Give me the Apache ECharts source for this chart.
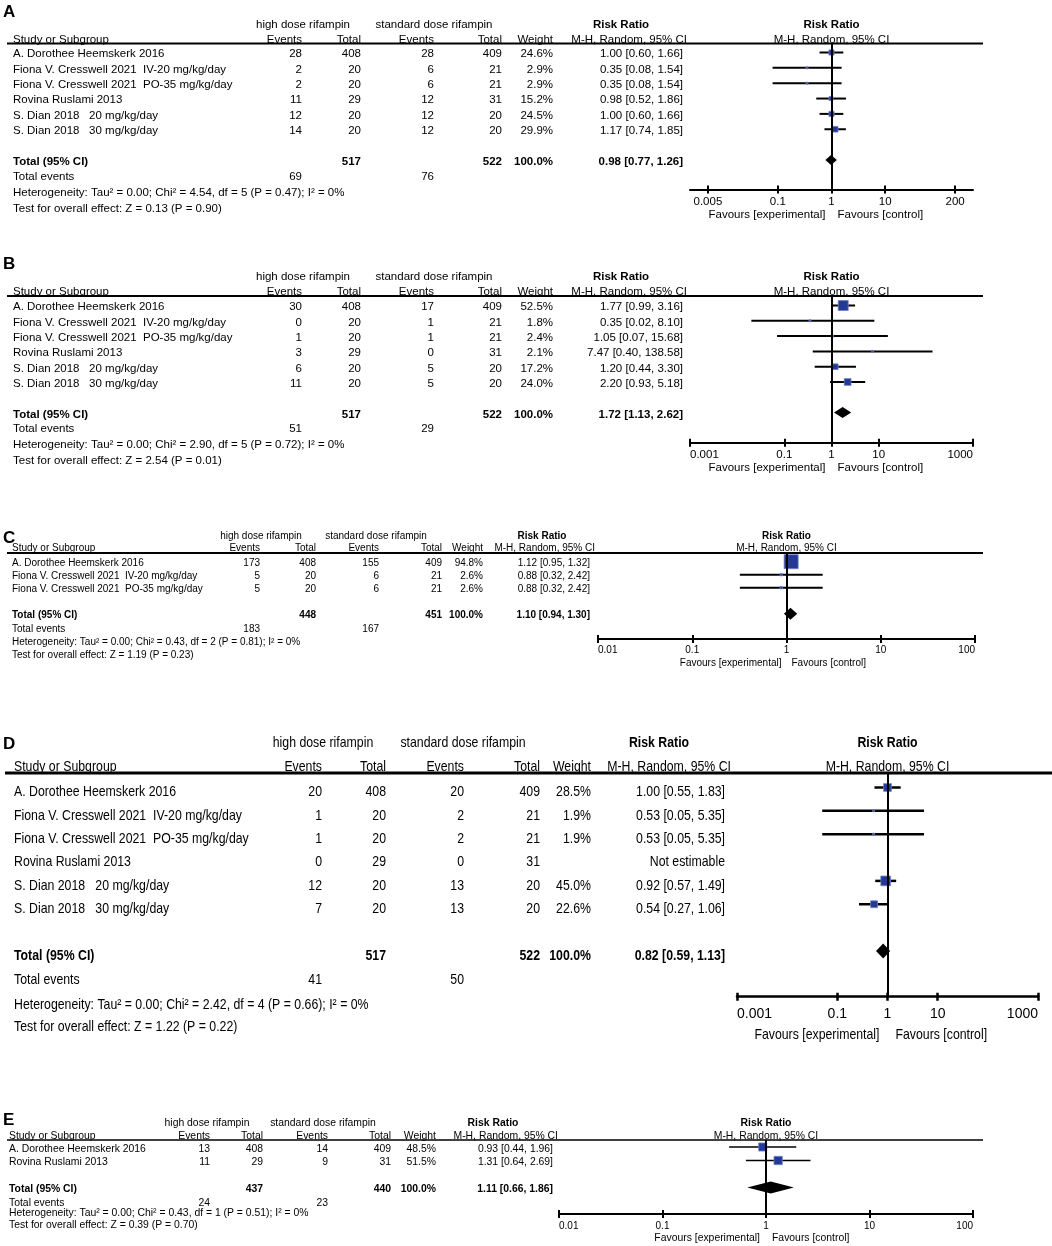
<!DOCTYPE html>
<html>
<head>
<meta charset="utf-8">
<script src="https://cdn.jsdelivr.net/npm/echarts@6/dist/echarts.min.js"></script>
<style>
html,body{margin:0;padding:0;background:#fff;}
#c{width:1052px;height:1246px;}
</style>
</head>
<body>
<div id="c"></div>
<script>
// ---------------- DATA ----------------
const groupHeaders = ['high dose rifampin', 'standard dose rifampin'];
const colHeaders = ['Events', 'Total', 'Events', 'Total', 'Weight'];
const effectHeaders = ['Risk Ratio', 'M-H, Random, 95% CI'];
const favoursLabels = ['Favours [experimental]', 'Favours [control]'];
const studyHeader = 'Study or Subgroup';

// Panel A
const studiesA = ['A. Dorothee Heemskerk 2016', 'Fiona V. Cresswell 2021  IV-20 mg/kg/day', 'Fiona V. Cresswell 2021  PO-35 mg/kg/day', 'Rovina Ruslami 2013', 'S. Dian 2018   20 mg/kg/day', 'S. Dian 2018   30 mg/kg/day'];
const expEventsA = [28, 2, 2, 11, 12, 14];
const expTotalA = [408, 20, 20, 29, 20, 20];
const ctrlEventsA = [28, 6, 6, 12, 12, 12];
const ctrlTotalA = [409, 21, 21, 31, 20, 20];
const weightA = [24.6, 2.9, 2.9, 15.2, 24.5, 29.9];
const rrA = [1.00, 0.35, 0.35, 0.98, 1.00, 1.17];
const lowA = [0.60, 0.08, 0.08, 0.52, 0.60, 0.74];
const highA = [1.66, 1.54, 1.54, 1.86, 1.66, 1.85];
const totalsA = [517, 522];
const pooledA = [0.98, 0.77, 1.26];
const totalEventsA = [69, 76];
const hetA = 'Heterogeneity: Tau² = 0.00; Chi² = 4.54, df = 5 (P = 0.47); I² = 0%';
const testA = 'Test for overall effect: Z = 0.13 (P = 0.90)';
const ticksA = [0.005, 0.1, 1, 10, 200];

// Panel B
const studiesB = ['A. Dorothee Heemskerk 2016', 'Fiona V. Cresswell 2021  IV-20 mg/kg/day', 'Fiona V. Cresswell 2021  PO-35 mg/kg/day', 'Rovina Ruslami 2013', 'S. Dian 2018   20 mg/kg/day', 'S. Dian 2018   30 mg/kg/day'];
const expEventsB = [30, 0, 1, 3, 6, 11];
const expTotalB = [408, 20, 20, 29, 20, 20];
const ctrlEventsB = [17, 1, 1, 0, 5, 5];
const ctrlTotalB = [409, 21, 21, 31, 20, 20];
const weightB = [52.5, 1.8, 2.4, 2.1, 17.2, 24.0];
const rrB = [1.77, 0.35, 1.05, 7.47, 1.20, 2.20];
const lowB = [0.99, 0.02, 0.07, 0.40, 0.44, 0.93];
const highB = [3.16, 8.10, 15.68, 138.58, 3.30, 5.18];
const totalsB = [517, 522];
const pooledB = [1.72, 1.13, 2.62];
const totalEventsB = [51, 29];
const hetB = 'Heterogeneity: Tau² = 0.00; Chi² = 2.90, df = 5 (P = 0.72); I² = 0%';
const testB = 'Test for overall effect: Z = 2.54 (P = 0.01)';
const ticksB = [0.001, 0.1, 1, 10, 1000];

// Panel C
const studiesC = ['A. Dorothee Heemskerk 2016', 'Fiona V. Cresswell 2021  IV-20 mg/kg/day', 'Fiona V. Cresswell 2021  PO-35 mg/kg/day'];
const expEventsC = [173, 5, 5];
const expTotalC = [408, 20, 20];
const ctrlEventsC = [155, 6, 6];
const ctrlTotalC = [409, 21, 21];
const weightC = [94.8, 2.6, 2.6];
const rrC = [1.12, 0.88, 0.88];
const lowC = [0.95, 0.32, 0.32];
const highC = [1.32, 2.42, 2.42];
const totalsC = [448, 451];
const pooledC = [1.10, 0.94, 1.30];
const totalEventsC = [183, 167];
const hetC = 'Heterogeneity: Tau² = 0.00; Chi² = 0.43, df = 2 (P = 0.81); I² = 0%';
const testC = 'Test for overall effect: Z = 1.19 (P = 0.23)';
const ticksC = [0.01, 0.1, 1, 10, 100];

// Panel D
const studiesD = ['A. Dorothee Heemskerk 2016', 'Fiona V. Cresswell 2021  IV-20 mg/kg/day', 'Fiona V. Cresswell 2021  PO-35 mg/kg/day', 'Rovina Ruslami 2013', 'S. Dian 2018   20 mg/kg/day', 'S. Dian 2018   30 mg/kg/day'];
const expEventsD = [20, 1, 1, 0, 12, 7];
const expTotalD = [408, 20, 20, 29, 20, 20];
const ctrlEventsD = [20, 2, 2, 0, 13, 13];
const ctrlTotalD = [409, 21, 21, 31, 20, 20];
const weightD = [28.5, 1.9, 1.9, null, 45.0, 22.6];
const rrD = [1.00, 0.53, 0.53, null, 0.92, 0.54];
const lowD = [0.55, 0.05, 0.05, null, 0.57, 0.27];
const highD = [1.83, 5.35, 5.35, null, 1.49, 1.06];
const totalsD = [517, 522];
const pooledD = [0.82, 0.59, 1.13];
const totalEventsD = [41, 50];
const hetD = 'Heterogeneity: Tau² = 0.00; Chi² = 2.42, df = 4 (P = 0.66); I² = 0%';
const testD = 'Test for overall effect: Z = 1.22 (P = 0.22)';
const ticksD = [0.001, 0.1, 1, 10, 1000];

// Panel E
const studiesE = ['A. Dorothee Heemskerk 2016', 'Rovina Ruslami 2013'];
const expEventsE = [13, 11];
const expTotalE = [408, 29];
const ctrlEventsE = [14, 9];
const ctrlTotalE = [409, 31];
const weightE = [48.5, 51.5];
const rrE = [0.93, 1.31];
const lowE = [0.44, 0.64];
const highE = [1.96, 2.69];
const totalsE = [437, 440];
const pooledE = [1.11, 0.66, 1.86];
const totalEventsE = [24, 23];
const hetE = 'Heterogeneity: Tau² = 0.00; Chi² = 0.43, df = 1 (P = 0.51); I² = 0%';
const testE = 'Test for overall effect: Z = 0.39 (P = 0.70)';
const ticksE = [0.01, 0.1, 1, 10, 100];

const totalWeightText = '100.0%';

const panelData = [
  {studies: studiesA, expE: expEventsA, expN: expTotalA, ctlE: ctrlEventsA, ctlN: ctrlTotalA, weight: weightA, rr: rrA, low: lowA, high: highA, totN: totalsA, pooled: pooledA, totE: totalEventsA, het: hetA, test: testA, ticks: ticksA},
  {studies: studiesB, expE: expEventsB, expN: expTotalB, ctlE: ctrlEventsB, ctlN: ctrlTotalB, weight: weightB, rr: rrB, low: lowB, high: highB, totN: totalsB, pooled: pooledB, totE: totalEventsB, het: hetB, test: testB, ticks: ticksB},
  {studies: studiesC, expE: expEventsC, expN: expTotalC, ctlE: ctrlEventsC, ctlN: ctrlTotalC, weight: weightC, rr: rrC, low: lowC, high: highC, totN: totalsC, pooled: pooledC, totE: totalEventsC, het: hetC, test: testC, ticks: ticksC},
  {studies: studiesD, expE: expEventsD, expN: expTotalD, ctlE: ctrlEventsD, ctlN: ctrlTotalD, weight: weightD, rr: rrD, low: lowD, high: highD, totN: totalsD, pooled: pooledD, totE: totalEventsD, het: hetD, test: testD, ticks: ticksD},
  {studies: studiesE, expE: expEventsE, expN: expTotalE, ctlE: ctrlEventsE, ctlN: ctrlTotalE, weight: weightE, rr: rrE, low: lowE, high: highE, totN: totalsE, pooled: pooledE, totE: totalEventsE, het: hetE, test: testE, ticks: ticksE}
];

// ---------------- LAYOUT ----------------
const layouts = [
  {label:'A', labelY:12, fs:11.5, sx:1, h1Y:24.5, h2Y:39.5, lineY:43.5, lineX0:7, lineX1:983, lineW:2,
   row0:52.5, pitch:15.35, textDy:1.5, totalRow:7, footY:[177,193,208.5], nameX:13,
   cols:[302,361,434,502,553,683], mhRight:687, grpX:[303,434], rrX:621,
   x0:690, x1:973, lo:0.00232, hi:431, alignEnds:false, axisY:189.5, axisW:2, tickFs:11.5, labelMargin:6, favY:215, favGap:6,
   sqK:1.04, diaH:5, ciW:2},
  {label:'B', labelY:264, fs:11.5, sx:1, h1Y:277, h2Y:291.5, lineY:296, lineX0:7, lineX1:983, lineW:2,
   row0:305.5, pitch:15.3, textDy:1.8, totalRow:7, footY:[429,445,461], nameX:13,
   cols:[302,361,434,502,553,683], mhRight:687, grpX:[303,434], rrX:621,
   x0:690, x1:973, lo:0.001, hi:1000, alignEnds:true, axisY:442.7, axisW:2, tickFs:11.5, labelMargin:6, favY:468, favGap:6,
   sqK:1.38, diaH:5.5, ciW:2},
  {label:'C', labelY:538, fs:10, sx:1, h1Y:536.5, h2Y:548.5, lineY:553, lineX0:7, lineX1:983, lineW:2,
   row0:561.7, pitch:13, textDy:1.5, totalRow:4, footY:[629.5,642,655.5], nameX:12,
   cols:[260,316,379,442,483,590], mhRight:595, grpX:[261,376], rrX:542,
   x0:598, x1:975, lo:0.01, hi:100, alignEnds:true, axisY:639, axisW:2, tickFs:10, labelMargin:6, favY:663, favGap:5,
   sqK:1.44, diaH:6, ciW:2},
  {label:'D', labelY:744, fs:15, sx:0.82, h1Y:743.3, h2Y:766.5, lineY:773, lineX0:5, lineX1:1052, lineW:3,
   row0:787.5, pitch:23.35, textDy:4.8, totalRow:7, footY:[980,1005,1026.5], nameX:14,
   cols:[322,386,464,540,591,725], mhRight:731, grpX:[323,463], rrX:659,
   x0:737, x1:1038, lo:0.001, hi:1000, alignEnds:true, axisY:996.7, axisW:2.5, tickFs:14, labelMargin:10, favY:1035, favGap:8,
   sqK:1.45, diaH:7.5, ciW:2.5},
  {label:'E', labelY:1120, fs:10.4, sx:1, h1Y:1122.7, h2Y:1136, lineY:1140, lineX0:7, lineX1:983, lineW:1.5,
   row0:1147, pitch:13.5, textDy:2, totalRow:3, footY:[1203,1213.5,1225], nameX:9,
   cols:[210,263,328,391,436,553], mhRight:558, grpX:[207,323], rrX:493,
   x0:559, x1:973, lo:0.01, hi:100, alignEnds:true, axisY:1214, axisW:2, tickFs:10, labelMargin:7.5, favY:1238, favGap:6,
   sqK:1.16, diaH:6, ciW:1.5}
];

const FONT = '"Liberation Sans", Arial, Helvetica, sans-serif';
const SQ_COLOR = '#233a94';
const SQ_BORDER = '#6f80c6';

const chart = echarts.init(document.getElementById('c'), null, {renderer: 'canvas'});
const grids = [], xAxes = [], yAxes = [], series = [];
const fmtTick = v => String(+(+v).toPrecision(4));

layouts.forEach((L, k) => {
  const D = panelData[k];
  const yMin = (L.lineY - L.row0) / L.pitch;
  const yMax = (L.axisY - L.row0) / L.pitch;
  grids.push({left: L.x0, width: L.x1 - L.x0, top: L.lineY, height: L.axisY - L.lineY, containLabel: false, outerBoundsMode: 'none'});
  const base = {type: 'log', logBase: 10, gridIndex: k, position: 'bottom', min: L.lo, max: L.hi, splitLine: {show: false}, minorTick: {show: false}, minorSplitLine: {show: false}};
  const label = {show: true, customValues: D.ticks, formatter: fmtTick, margin: L.labelMargin, color: '#000', fontSize: L.tickFs, fontFamily: FONT, showMinLabel: true, showMaxLabel: true};
  if (L.alignEnds) { label.alignMinLabel = 'left'; label.alignMaxLabel = 'right'; }
  xAxes.push(Object.assign({}, base, {
    axisLine: {show: true, onZero: false, lineStyle: {color: '#000', width: L.axisW}},
    axisTick: {show: true, inside: false, length: 4, customValues: D.ticks, lineStyle: {color: '#000', width: L.axisW}},
    axisLabel: label
  }));
  xAxes.push(Object.assign({}, base, {
    axisLine: {show: false, onZero: false},
    axisTick: {show: true, inside: true, length: 4, customValues: D.ticks, lineStyle: {color: '#000', width: L.axisW}},
    axisLabel: {show: false}
  }));
  yAxes.push({type: 'value', gridIndex: k, inverse: true, min: yMin, max: yMax, show: false, splitLine: {show: false}});

  const ciData = [], sqData = [];
  D.rr.forEach((v, i) => {
    if (v == null) return;
    ciData.push([D.low[i], D.high[i], i]);
    sqData.push([v, i, D.weight[i]]);
  });
  series.push({
    type: 'custom', xAxisIndex: 2 * k, yAxisIndex: k, silent: true, z: 2,
    dimensions: ['low', 'high', 'row'], encode: {x: [0, 1], y: 2},
    data: ciData,
    renderItem: (params, api) => {
      const a = api.coord([api.value(0), api.value(2)]);
      const b = api.coord([api.value(1), api.value(2)]);
      return {type: 'line', shape: {x1: a[0], y1: a[1], x2: b[0], y2: b[1]}, style: {stroke: '#000', lineWidth: L.ciW}};
    }
  });
  series.push({
    type: 'scatter', xAxisIndex: 2 * k, yAxisIndex: k, silent: true, z: 4,
    symbol: 'rect',
    symbolSize: v => Math.max(2, L.sqK * Math.sqrt(v[2])),
    itemStyle: {color: SQ_COLOR, borderColor: SQ_BORDER, borderWidth: 0.8, opacity: 1},
    data: sqData,
    markLine: {silent: true, symbol: ['none', 'none'], label: {show: false}, animation: false,
      lineStyle: {color: '#000', width: 2, type: 'solid'}, data: [{xAxis: 1}]}
  });
  series.push({
    type: 'custom', xAxisIndex: 2 * k, yAxisIndex: k, silent: true, z: 5,
    dimensions: ['low', 'est', 'high', 'row'], encode: {x: [0, 1, 2], y: 3},
    data: [[D.pooled[1], D.pooled[0], D.pooled[2], L.totalRow]],
    renderItem: (params, api) => {
      const y = api.value(3);
      const l = api.coord([api.value(0), y]);
      const m = api.coord([api.value(1), y]);
      const r = api.coord([api.value(2), y]);
      return {type: 'polygon', shape: {points: [[l[0], l[1]], [m[0], m[1] - L.diaH], [r[0], r[1]], [m[0], m[1] + L.diaH]]}, style: {fill: '#000'}};
    }
  });
});

chart.setOption({
  animation: false,
  backgroundColor: '#fff',
  grid: grids, xAxis: xAxes, yAxis: yAxes, series: series
});

// ---------------- TEXT / RULES ----------------
function txt(x, y, text, L, o) {
  o = o || {};
  const align = o.align || 'left';
  return {
    type: 'text', x: x, y: y, silent: true, z: 10,
    scaleX: o.sx != null ? o.sx : L.sx, scaleY: 1,
    style: {text: String(text), x: 0, y: 0, fill: '#000',
      fontSize: o.fs || L.fs, fontFamily: FONT, fontWeight: o.bold ? 'bold' : 'normal',
      align: align, textAlign: align, verticalAlign: 'middle', textVerticalAlign: 'middle'}
  };
}
const ciText = (r, l, h) => r == null ? 'Not estimable' : r.toFixed(2) + ' [' + l.toFixed(2) + ', ' + h.toFixed(2) + ']';

const gfx = [];
layouts.forEach((L, k) => {
  const D = panelData[k];
  const one = chart.convertToPixel({xAxisIndex: 2 * k}, 1);
  gfx.push(txt(3, L.labelY, L.label, L, {bold: true, fs: 17, sx: 1}));
  gfx.push(txt(L.grpX[0], L.h1Y, groupHeaders[0], L, {align: 'center'}));
  gfx.push(txt(L.grpX[1], L.h1Y, groupHeaders[1], L, {align: 'center'}));
  gfx.push(txt(L.rrX, L.h1Y, effectHeaders[0], L, {align: 'center', bold: true}));
  gfx.push(txt(one, L.h1Y, effectHeaders[0], L, {align: 'center', bold: true}));
  gfx.push(txt(L.nameX, L.h2Y, studyHeader, L));
  colHeaders.forEach((h, j) => gfx.push(txt(L.cols[j], L.h2Y, h, L, {align: 'right'})));
  gfx.push(txt(L.mhRight, L.h2Y, effectHeaders[1], L, {align: 'right'}));
  gfx.push(txt(one, L.h2Y, effectHeaders[1], L, {align: 'center'}));
  gfx.push({type: 'line', silent: true, z: 9, shape: {x1: L.lineX0, y1: L.lineY, x2: L.lineX1, y2: L.lineY}, style: {stroke: '#000', lineWidth: L.lineW}});
  D.studies.forEach((s, i) => {
    const y = L.row0 + i * L.pitch + L.textDy;
    gfx.push(txt(L.nameX, y, s, L));
    gfx.push(txt(L.cols[0], y, D.expE[i], L, {align: 'right'}));
    gfx.push(txt(L.cols[1], y, D.expN[i], L, {align: 'right'}));
    gfx.push(txt(L.cols[2], y, D.ctlE[i], L, {align: 'right'}));
    gfx.push(txt(L.cols[3], y, D.ctlN[i], L, {align: 'right'}));
    if (D.weight[i] != null) gfx.push(txt(L.cols[4], y, D.weight[i].toFixed(1) + '%', L, {align: 'right'}));
    gfx.push(txt(L.cols[5], y, ciText(D.rr[i], D.low[i], D.high[i]), L, {align: 'right'}));
  });
  const ty = L.row0 + L.totalRow * L.pitch + L.textDy;
  gfx.push(txt(L.nameX, ty, 'Total (95% CI)', L, {bold: true}));
  gfx.push(txt(L.cols[1], ty, D.totN[0], L, {align: 'right', bold: true}));
  gfx.push(txt(L.cols[3], ty, D.totN[1], L, {align: 'right', bold: true}));
  gfx.push(txt(L.cols[4], ty, totalWeightText, L, {align: 'right', bold: true}));
  gfx.push(txt(L.cols[5], ty, ciText(D.pooled[0], D.pooled[1], D.pooled[2]), L, {align: 'right', bold: true}));
  gfx.push(txt(L.nameX, L.footY[0], 'Total events', L));
  gfx.push(txt(L.cols[0], L.footY[0], D.totE[0], L, {align: 'right'}));
  gfx.push(txt(L.cols[2], L.footY[0], D.totE[1], L, {align: 'right'}));
  gfx.push(txt(L.nameX, L.footY[1], D.het, L));
  gfx.push(txt(L.nameX, L.footY[2], D.test, L));
  gfx.push(txt(one - L.favGap, L.favY, favoursLabels[0], L, {align: 'right'}));
  gfx.push(txt(one + L.favGap, L.favY, favoursLabels[1], L, {align: 'left'}));
});

chart.setOption({graphic: {elements: gfx}});
</script>
</body>
</html>
